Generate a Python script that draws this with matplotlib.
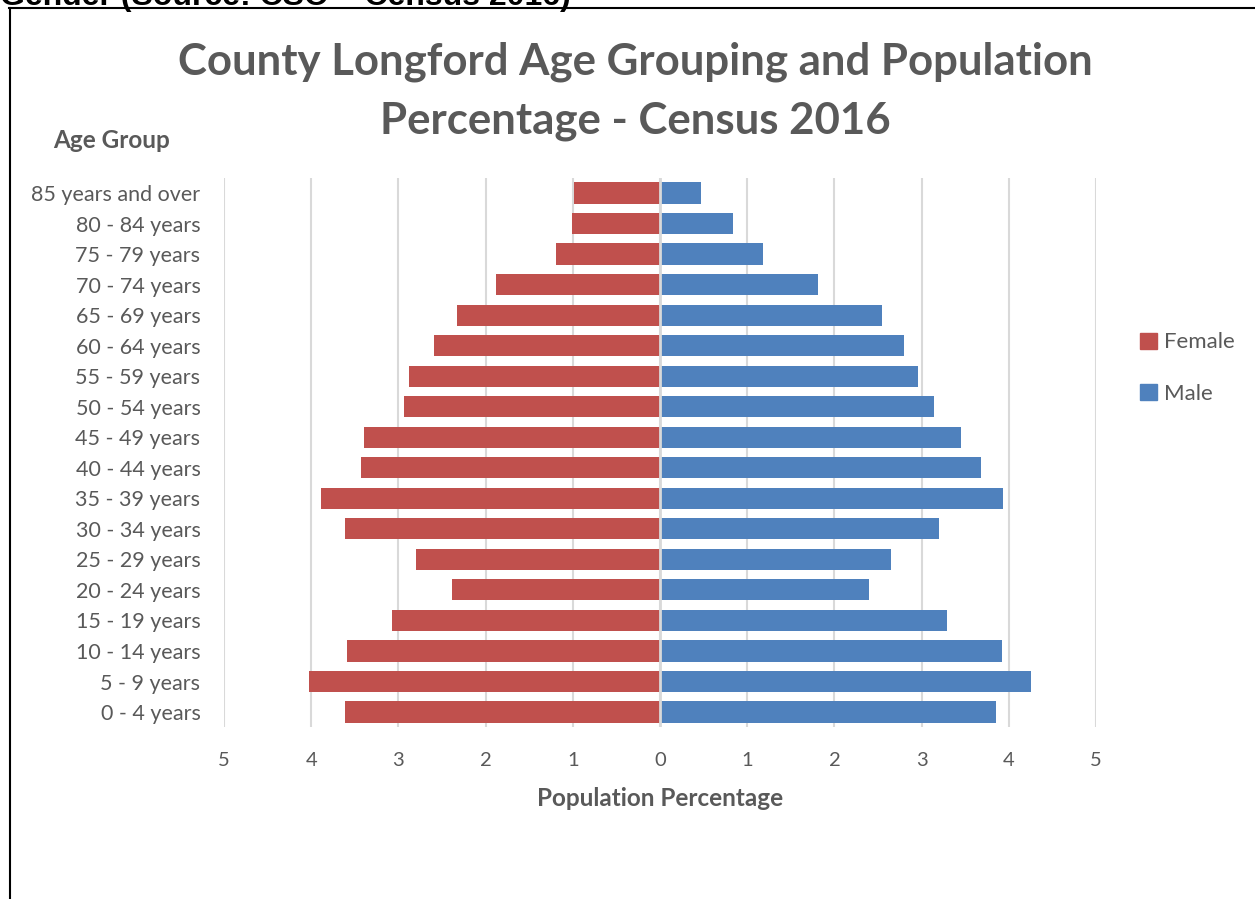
import matplotlib
matplotlib.use("Agg")
import matplotlib.pyplot as plt
from matplotlib.lines import Line2D
from matplotlib.patches import Rectangle
import numpy as np

age_groups = ["0 - 4 years", "5 - 9 years", "10 - 14 years", "15 - 19 years", "20 - 24 years",
              "25 - 29 years", "30 - 34 years", "35 - 39 years", "40 - 44 years", "45 - 49 years",
              "50 - 54 years", "55 - 59 years", "60 - 64 years", "65 - 69 years", "70 - 74 years",
              "75 - 79 years", "80 - 84 years", "85 years and over"]
female = [3.61, 4.03, 3.59, 3.07, 2.39, 2.80, 3.61, 3.89, 3.43, 3.39,
          2.94, 2.88, 2.59, 2.33, 1.88, 1.19, 1.01, 0.99]
male = [3.85, 4.25, 3.92, 3.29, 2.40, 2.65, 3.20, 3.93, 3.68, 3.45,
        3.14, 2.96, 2.80, 2.55, 1.81, 1.18, 0.84, 0.47]
x_ticks = [-5, -4, -3, -2, -1, 0, 1, 2, 3, 4, 5]

FONT = ["Lato", "DejaVu Sans"]
GRAY = "#595959"
FEMALE_C = "#C0504D"
MALE_C = "#4F81BD"

W, H = 1255, 899
fig = plt.figure(figsize=(W / 100, H / 100), dpi=100)
fig.patch.set_facecolor("white")

def fx(px):
    return px / W

def fy(py):
    return 1 - py / H

ax = fig.add_axes([fx(224), fy(727.3), fx(1096) - fx(224), fy(177.7) - fy(727.3)])
y = np.arange(len(age_groups))
ax.barh(y, [-v for v in female], height=0.69, color=FEMALE_C, label="Female", zorder=3)
ax.barh(y, male, height=0.69, color=MALE_C, label="Male", zorder=3)
ax.set_xlim(-5, 5)
ax.set_ylim(-0.5, len(age_groups) - 0.5)
ax.set_xticks(x_ticks)
ax.set_xticklabels([str(abs(t)) for t in x_ticks], fontsize=14.5, color=GRAY, family=FONT)
ax.set_yticks(y)
ax.set_yticklabels(age_groups, fontsize=15.5, color=GRAY, family=FONT)
ax.tick_params(axis="both", length=0)
ax.tick_params(axis="x", pad=18)
ax.tick_params(axis="y", pad=17)
for s in ax.spines.values():
    s.set_visible(False)
ax.grid(axis="x", color="#D9D9D9", linewidth=1.5, zorder=0)
ax.axvline(0, color="#D9D9D9", linewidth=2, zorder=4)
ax.set_xlabel("Population Percentage", fontsize=17.5, fontweight="bold", color=GRAY, family=FONT, labelpad=13)

# title
fig.text(fx(635), fy(62), "County Longford Age Grouping and Population", ha="center", va="center",
         fontsize=31.5, fontweight="bold", color=GRAY, family=FONT)
fig.text(fx(635), fy(121), "Percentage - Census 2016", ha="center", va="center",
         fontsize=31.5, fontweight="bold", color=GRAY, family=FONT)
fig.text(fx(112), fy(141), "Age Group", ha="center", va="center",
         fontsize=17.5, fontweight="bold", color=GRAY, family=FONT)

# legend
leg = fig.legend(handles=[Rectangle((0, 0), 1, 1, color=FEMALE_C), Rectangle((0, 0), 1, 1, color=MALE_C)],
                 labels=["Female", "Male"], loc="center left", bbox_to_anchor=(fx(1120), fy(368)),
                 frameon=False, handlelength=0.75, handleheight=0.75, handletextpad=0.35,
                 labelspacing=1.4, prop={"family": FONT, "size": 16})
for t in leg.get_texts():
    t.set_color(GRAY)

# document context: cut-off caption and frame
fig.text(fx(0), fy(5), "Gender (Source: CSO \u2013 Census 2016)", ha="left", va="baseline",
         fontsize=23, fontweight="bold", color="black", family=["Liberation Sans", "DejaVu Sans"])
fig.add_artist(Line2D([fx(9), 1.0], [fy(8), fy(8)], color="black", linewidth=1.5))
fig.add_artist(Line2D([fx(10), fx(10)], [fy(8), 0], color="black", linewidth=1.5))

fig.savefig("out.png", dpi=100, facecolor="white")
